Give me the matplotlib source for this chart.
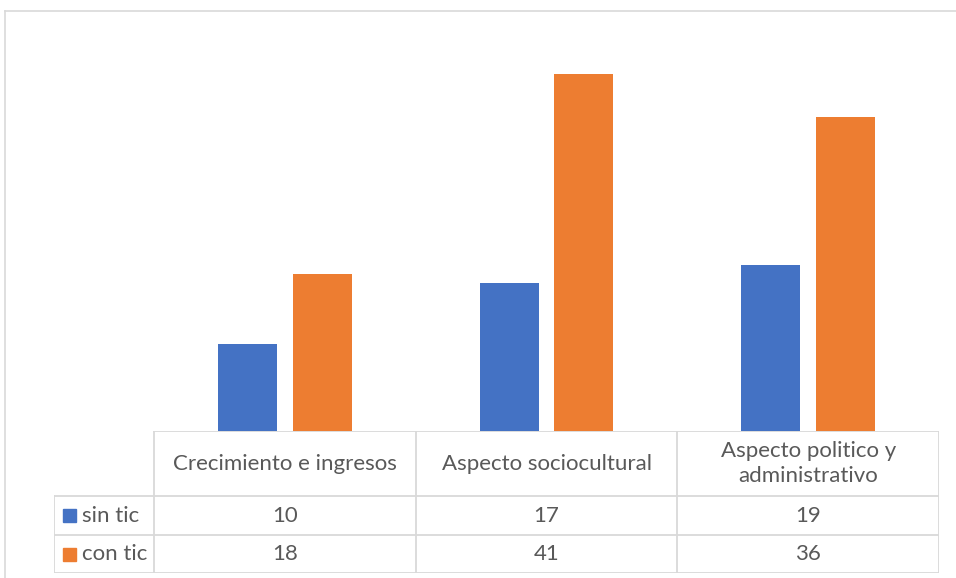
import matplotlib
matplotlib.use("Agg")
from matplotlib import pyplot as plt
from matplotlib.patches import Rectangle

categories = ["Crecimiento e ingresos", "Aspecto sociocultural", "Aspecto politico y\nadministrativo"]
series_names = ["sin tic", "con tic"]
sin_tic = [10, 17, 19]
con_tic = [18, 41, 36]
colors = ["#4472C4", "#ED7D31"]

plt.rcParams['font.family'] = ['Lato', 'DejaVu Sans']
W, H = 956, 578
grid_c = "#d9d9d9"
text_c = "#595959"

fig = plt.figure(figsize=(W / 100, H / 100), dpi=100)

# outer chart border
fig.add_artist(plt.Line2D([4.5 / W, 4.5 / W], [0, 1 - 10.5 / H], color=grid_c, lw=1.2))
fig.add_artist(plt.Line2D([4.5 / W, 1], [1 - 10.5 / H, 1 - 10.5 / H], color=grid_c, lw=1.2))

# plot area (pixels: x 154..939, y 39..431)
x0, x1, ybase, ytop = 154, 939, 431, 39
n = len(categories)
unit = (x1 - x0) / n  # pixels per category
ax = fig.add_axes([x0 / W, 1 - ybase / H, (x1 - x0) / W, (ybase - ytop) / H])
offset, width = 0.143, 0.225
for i in range(n):
    ax.bar(i + 0.5 - offset, sin_tic[i], width=width, color=colors[0])
    ax.bar(i + 0.5 + offset, con_tic[i], width=width, color=colors[1])
ax.set_xlim(0, n)
ax.set_ylim(0, 45)
ax.axis("off")

# data table (pixels: x 54..939, y 431..573)
tx0, ty0, ty1 = 54, 431, 573
lab_w = (x0 - tx0) / unit
tax = fig.add_axes([tx0 / W, 1 - ty1 / H, (x1 - tx0) / W, (ty1 - ty0) / H])
tax.set_xlim(-lab_w, n)
tax.set_ylim(ty1 - ty0, 0)
tax.axis("off")
rows = [0, 65, 104, 142]
lw = 1.3
tax.plot([0, n], [rows[0], rows[0]], color=grid_c, lw=lw)
for r in rows[1:]:
    tax.plot([-lab_w, n], [r, r], color=grid_c, lw=lw)
tax.plot([-lab_w, -lab_w], [rows[1], rows[3]], color=grid_c, lw=lw)
for c in range(n + 1):
    tax.plot([c, c], [rows[0], rows[3]], color=grid_c, lw=lw)

fs = 16
for i, cat in enumerate(categories):
    tax.text(i + 0.5, (rows[0] + rows[1]) / 2, cat, ha="center", va="center",
             fontsize=fs, color=text_c, linespacing=1.3)
    tax.text(i + 0.5, (rows[1] + rows[2]) / 2, str(sin_tic[i]), ha="center", va="center",
             fontsize=fs, color=text_c)
    tax.text(i + 0.5, (rows[2] + rows[3]) / 2, str(con_tic[i]), ha="center", va="center",
             fontsize=fs, color=text_c)

for k, name in enumerate(series_names):
    yc = (rows[k + 1] + rows[k + 2]) / 2
    tax.add_patch(Rectangle((-lab_w + 9 / unit, yc - 6.5), 13 / unit, 13, color=colors[k]))
    tax.text(-lab_w + 28 / unit, yc, name, ha="left", va="center", fontsize=fs, color=text_c)

fig.savefig("out.png", dpi=100)
